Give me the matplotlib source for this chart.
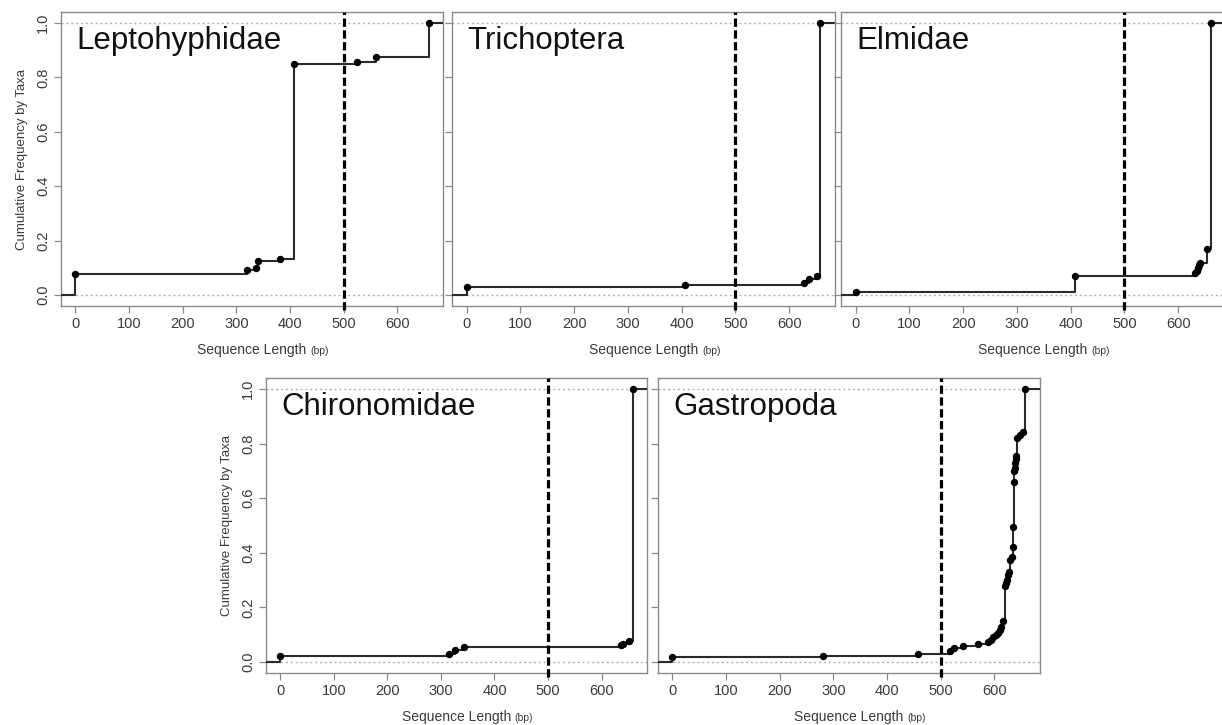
import numpy as np
import matplotlib.pyplot as plt

plt.rcParams['font.family'] = ['Liberation Sans', 'DejaVu Sans']

# -------------------------------
# data: step positions of each empirical CDF (length in bp, cumulative freq)
# -------------------------------
lepto_len = [0, 320, 336, 340, 381, 408, 524, 561, 659]
lepto_cum = [0.077, 0.094, 0.100, 0.126, 0.133, 0.850, 0.857, 0.874, 1.0]

tricho_len = [0, 406, 628, 637, 652, 657]
tricho_cum = [0.031, 0.037, 0.044, 0.060, 0.070, 1.0]

elmid_len = [0, 408, 632, 634, 636, 638, 641, 654, 660]
elmid_cum = [0.012, 0.070, 0.080, 0.090, 0.100, 0.110, 0.117, 0.168, 1.0]

chiro_len = [0, 315, 326, 343, 636, 640, 652, 658]
chiro_cum = [0.023, 0.030, 0.045, 0.055, 0.062, 0.068, 0.077, 1.0]

gastro_len = [0, 280, 458, 518, 524, 541, 570, 588, 593, 598, 603, 607, 610,
              613, 616, 619, 621, 623, 626, 628, 630, 632, 634, 635, 636, 637,
              638, 639, 640, 641, 642, 648, 654, 657]
gastro_cum = [0.017, 0.022, 0.031, 0.042, 0.050, 0.060, 0.066, 0.074, 0.082,
              0.090, 0.100, 0.108, 0.118, 0.130, 0.150, 0.280, 0.290, 0.300,
              0.320, 0.330, 0.375, 0.385, 0.420, 0.495, 0.660, 0.700, 0.712,
              0.728, 0.745, 0.755, 0.822, 0.830, 0.842, 1.0]

taxa = ["Leptohyphidae", "Trichoptera", "Elmidae", "Chironomidae", "Gastropoda"]
lengths = [lepto_len, tricho_len, elmid_len, chiro_len, gastro_len]
cums = [lepto_cum, tricho_cum, elmid_cum, chiro_cum, gastro_cum]

cutoff = 500
y_ticks = [0.0, 0.2, 0.4, 0.6, 0.8, 1.0]
x_ticks = [0, 100, 200, 300, 400, 500, 600]

W, H = 1222, 725
# axes boxes in pixels: left, top, right, bottom
boxes = [(61, 12, 443, 306), (452, 12, 835, 306), (841, 12, 1224, 306),
         (266, 378, 647, 673), (658, 378, 1040, 673)]
show_ylab = [True, False, False, True, False]

fig = plt.figure(figsize=(W / 100, H / 100), dpi=100)

txt_col = "#3a3a3a"
axis_col = "#8a8a8a"

for name, xs, ys, (l, t, r, b), ylab in zip(taxa, lengths, cums, boxes, show_ylab):
    ax = fig.add_axes([l / W, 1 - b / H, (r - l) / W, (b - t) / H])
    xlo, xhi = -27, 685
    ax.set_xlim(xlo, xhi)
    ax.set_ylim(-0.04, 1.04)

    # reference lines at 0 and 1
    for h in (0, 1):
        ax.axhline(h, color="#b0b0b0", linestyle=(0, (1.5, 2)), linewidth=1.0, zorder=1)

    # ecdf steps
    sx = [xlo] + list(xs) + [xhi]
    sy = [0.0] + list(ys) + [1.0]
    ax.step(sx, sy, where="post", color="#2a2a2a", linewidth=1.5, zorder=3)
    ax.plot(xs, ys, "o", color="black", markersize=4.3, zorder=4)

    # 500 bp cutoff
    ax.axvline(cutoff, ymin=-0.015, ymax=1.0, color="black", linewidth=2.3,
               dashes=(2.6, 1.1), zorder=5, clip_on=False)

    ax.text(2, 0.905, name, fontsize=22.5, color="#111111", va="baseline", ha="left")

    for s in ax.spines.values():
        s.set_color(axis_col)
        s.set_linewidth(1.0)
    ax.set_xticks(x_ticks)
    ax.set_yticks(y_ticks)
    ax.tick_params(direction="out", length=5, width=0.9, color=axis_col,
                   labelcolor=txt_col, labelsize=10.5, pad=3)
    if ylab:
        ax.set_yticklabels([f"{v:.1f}" for v in y_ticks], rotation=90, va="center")
        ax.set_ylabel("Cumulative Frequency by Taxa", fontsize=9.5, color=txt_col, labelpad=6)
    else:
        ax.set_yticklabels([])

    ax.text(0.643, -0.163, "Sequence Length", transform=ax.transAxes, ha="right",
            va="baseline", fontsize=10, color=txt_col)
    ax.text(0.653, -0.163, "(bp)", transform=ax.transAxes, ha="left",
            va="baseline", fontsize=7.5, color=txt_col)

fig.savefig("out.png", dpi=100)
